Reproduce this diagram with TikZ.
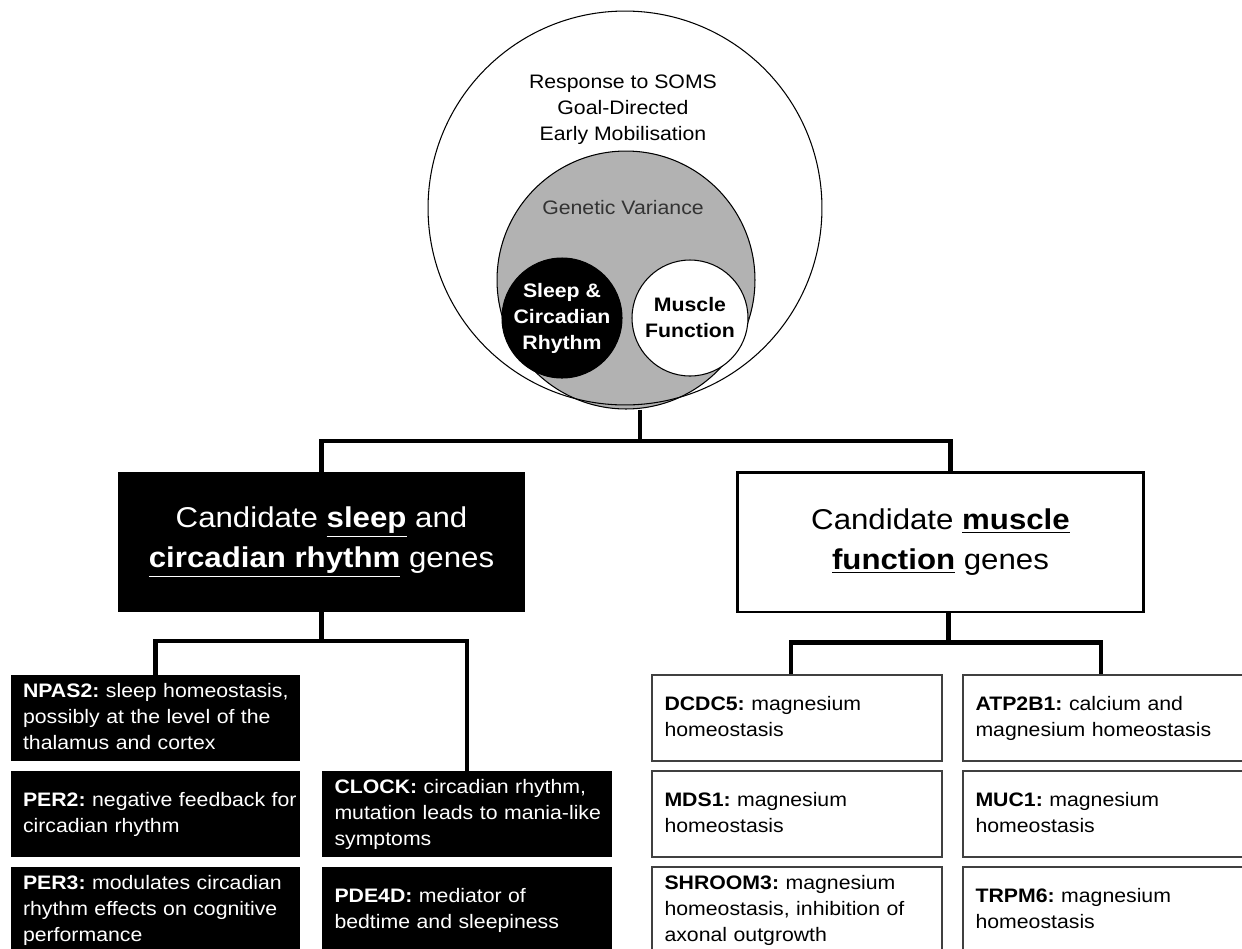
\documentclass[tikz,border=0pt]{standalone}
\usepackage{fontspec}
\setmainfont{Liberation Sans}[FakeStretch=1.09]
\usetikzlibrary{positioning}
\frenchspacing
\newcommand{\genefont}{\fontsize{11.1pt}{14.8pt}\selectfont}
\newcommand{\headfont}{\fontsize{16.3pt}{22.8pt}\selectfont}
\newcommand{\ulbold}[1]{\underline{\textbf{#1}}}
\newcommand{\genelines}[1]{\begin{tabular}{@{}l@{}}#1\end{tabular}}

\begin{document}
\begin{tikzpicture}[
    x=0.02cm, y=-0.02cm,
    ring/.style={draw, circle, line width=0.6pt, inner sep=0pt},
    link/.style={line width=2.3pt},
    head/.style={minimum width=8.14cm, minimum height=2.8cm, inner sep=0pt, align=center, font=\headfont},
    gene/.style={minimum height=1.72cm, text width=5.3cm, inner xsep=0.25cm, inner ysep=0pt, align=left, font=\genefont},
    sleepgene/.style={gene, fill=black, text=white},
    musclegene/.style={gene, draw=black!75, line width=0.9pt, fill=white},
]
    \useasboundingbox (0,0) rectangle (1242,948);
    \node[ring, fill=black!30, minimum size=5.16cm] (gv) at (626,280) {};
    \node[ring, minimum size=7.88cm] (soms) at (625,208) {};
    \node[font=\genefont, align=center] (somstext) at (623,110) {Response to SOMS\\Goal-Directed\\Early Mobilisation};
    \node[font=\genefont, text=black!80] (gvtext) at (623,208) {Genetic Variance};
    \node[ring, fill=black, text=white, minimum size=2.4cm, align=center, font=\genefont\bfseries] (scr) at (562,318) {Sleep \&\\Circadian\\Rhythm};
    \node[ring, fill=white, minimum size=2.32cm, align=center, font=\genefont\bfseries] (mf) at (690,318) {Muscle\\Function};

    \node[head, fill=black, text=white] (sleephead) at (321.5,542) {Candidate \ulbold{sleep} and\\\ulbold{circadian rhythm} genes};
    \node[head, draw, line width=1.7pt] (musclehead) at (940.5,542) {Candidate \ulbold{muscle}\\\ulbold{function} genes};

    \coordinate (split) at (640,441);
    \draw[link] (split |- gv.south) -- (split);
    \draw[link] (sleephead.north) |- (split) -| ([xshift=0.2cm]musclehead.north);

    \node[sleepgene] (npas2) at (155.5,718) {\genelines{\textbf{NPAS2:} sleep homeostasis,\\possibly at the level of the\\thalamus and cortex}};
    \node[sleepgene] (per2) at (155.5,814) {\genelines{\textbf{PER2:} negative feedback for\\circadian rhythm}};
    \node[sleepgene] (per3) at (155.5,910) {\genelines{\textbf{PER3:} modulates circadian\\rhythm effects on cognitive\\performance}};
    \node[sleepgene] (clock) at (467,814) {\genelines{\textbf{CLOCK:} circadian rhythm,\\mutation leads to mania-like\\symptoms}};
    \node[sleepgene] (pde4d) at (467,910) {\genelines{\textbf{PDE4D:} mediator of\\bedtime and sleepiness}};

    \node[musclegene] (dcdc5) at (797,718) {\genelines{\textbf{DCDC5:} magnesium\\homeostasis}};
    \node[musclegene] (atp2b1) at (1108,718) {\genelines{\textbf{ATP2B1:} calcium and\\magnesium homeostasis}};
    \node[musclegene] (mds1) at (797,814) {\genelines{\textbf{MDS1:} magnesium\\homeostasis}};
    \node[musclegene] (muc1) at (1108,814) {\genelines{\textbf{MUC1:} magnesium\\homeostasis}};
    \node[musclegene] (shroom3) at (797,910) {\genelines{\textbf{SHROOM3:} magnesium\\homeostasis, inhibition of\\axonal outgrowth}};
    \node[musclegene] (trpm6) at (1108,910) {\genelines{\textbf{TRPM6:} magnesium\\homeostasis}};

    \draw[link] ([xshift=0.16cm]musclehead.south) -- ++(0,29) coordinate (musclesplit);
    \draw[link] ([xshift=-0.12cm]dcdc5.north) |- (musclesplit) -| ([xshift=-0.14cm]atp2b1.north);
    \draw[link] (sleephead.south) -- ++(0,29) coordinate (sleepsplit);
    \draw[link] (npas2.north) |- (sleepsplit) -| (clock.north);
\end{tikzpicture}
\end{document}
